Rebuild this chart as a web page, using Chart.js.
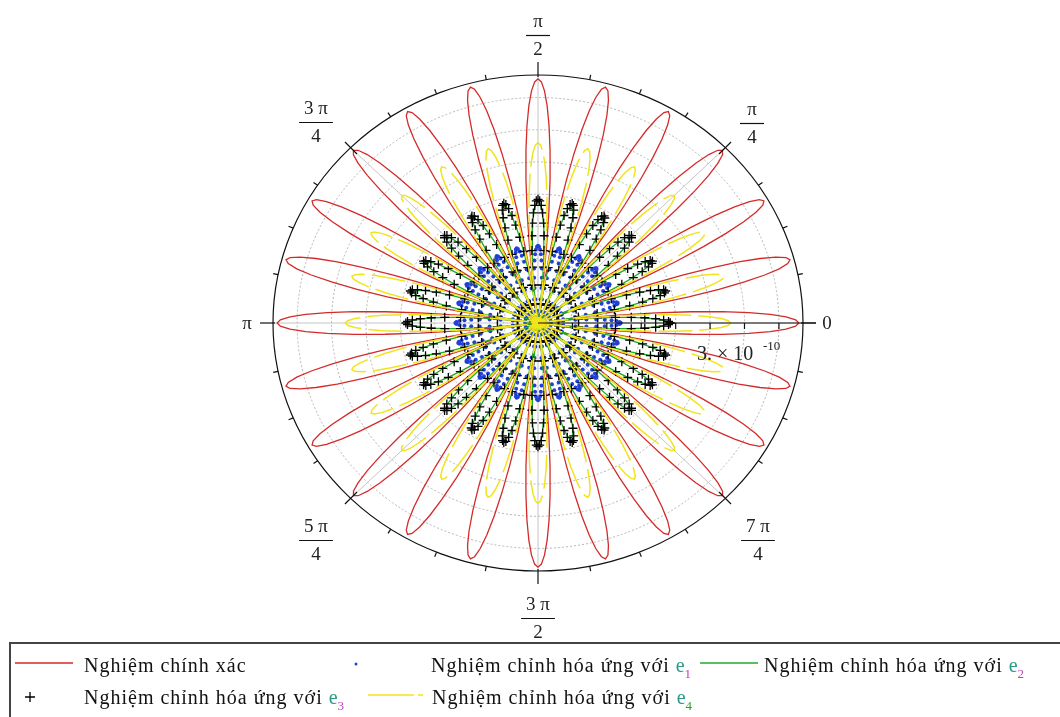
<!DOCTYPE html>
<html>
<head>
<meta charset="utf-8">
<script src="https://cdn.jsdelivr.net/npm/chart.js@4.4.1/dist/chart.umd.min.js"></script>
<style>
  html, body { margin: 0; padding: 0; background: #fff; }
  canvas { display: block; }
</style>
</head>
<body>
<canvas id="rose" width="1060" height="717"></canvas>
<script>
// radial values are in units of 1e-10
const R_MAX = 3.85;
const RING_VALUES = [0.5, 1, 1.5, 2, 2.5, 3, 3.5];
const PETALS = 24;
const SAMPLES = 480;

// petal length of each trace
const SERIES_NAMES = ['exact', 'e1', 'e2', 'e3', 'e4'];
const SERIES_AMPLITUDE = [3.79, 1.2, 1.88, 1.92, 2.8];
const SERIES_COLORS = ['#d42a2a', '#2040d8', '#20a828', '#000000', '#f2e41c'];

const ANGLE_LABELS = [
  { a: 0, num: '0' },
  { a: 45, num: 'π', den: '4' },
  { a: 90, num: 'π', den: '2' },
  { a: 135, num: '3 π', den: '4' },
  { a: 180, num: 'π' },
  { a: 225, num: '5 π', den: '4' },
  { a: 270, num: '3 π', den: '2' },
  { a: 315, num: '7 π', den: '4' }
];
// pixel of the fraction bar (or text centre) for each label
const ANGLE_LABEL_POS = {
  0: [827, 323], 45: [752, 123], 90: [538, 35], 135: [316, 122],
  180: [247, 323], 225: [316, 540], 270: [538, 618], 315: [758, 540]
};

const LEGEND_ROWS = [
  [{ mark: 'line', color: SERIES_COLORS[0], x: 15, text: 'Nghiệm chính xác', tx: 84 },
   { mark: 'dot', color: SERIES_COLORS[1], x: 356, text: 'Nghiệm chỉnh hóa ứng với ', sub: '1', tx: 431 },
   { mark: 'line', color: SERIES_COLORS[2], x: 700, text: 'Nghiệm chỉnh hóa ứng với ', sub: '2', tx: 764 }],
  [{ mark: 'cross', color: SERIES_COLORS[3], x: 30, text: 'Nghiệm chỉnh hóa ứng với ', sub: '3', tx: 84 },
   { mark: 'dash', color: SERIES_COLORS[4], x: 368, text: 'Nghiệm chỉnh hóa ứng với ', sub: '4', tx: 432, subColor: '#30a030' }]
];

function rose(amp) {
  const pts = [];
  for (let i = 0; i <= SAMPLES; i++) {
    const t = 2 * Math.PI * i / SAMPLES;
    const r = amp * Math.cos(PETALS / 2 * t);
    pts.push({ x: r * Math.cos(t), y: r * Math.sin(t) });
  }
  return pts;
}

const SERIF = '"Liberation Serif", "Times New Roman", serif';

const polarGrid = {
  id: 'polarGrid',
  beforeDatasetsDraw(chart) {
    const ctx = chart.ctx, sx = chart.scales.x, sy = chart.scales.y;
    const cx = sx.getPixelForValue(0), cy = sy.getPixelForValue(0);
    ctx.save();
    ctx.strokeStyle = '#b4b4b4';
    ctx.lineWidth = 1;
    ctx.setLineDash([2, 2]);
    RING_VALUES.forEach(v => {
      const rx = sx.getPixelForValue(v) - cx, ry = cy - sy.getPixelForValue(v);
      ctx.beginPath();
      ctx.ellipse(cx, cy, rx, ry, 0, 0, 2 * Math.PI);
      ctx.stroke();
    });
    ctx.setLineDash([]);
    ctx.strokeStyle = '#c4c4c4';
    for (let k = 0; k < 8; k++) {
      const a = k * Math.PI / 4;
      ctx.beginPath();
      ctx.moveTo(cx, cy);
      ctx.lineTo(sx.getPixelForValue(R_MAX * Math.cos(a)), sy.getPixelForValue(R_MAX * Math.sin(a)));
      ctx.stroke();
    }
    ctx.restore();
  },
  afterDatasetsDraw(chart) {
    const ctx = chart.ctx, sx = chart.scales.x, sy = chart.scales.y;
    const cx = sx.getPixelForValue(0), cy = sy.getPixelForValue(0);
    const rx = sx.getPixelForValue(R_MAX) - cx, ry = cy - sy.getPixelForValue(R_MAX);
    ctx.save();
    ctx.strokeStyle = '#111';
    ctx.lineWidth = 1.2;
    ctx.beginPath();
    ctx.ellipse(cx, cy, rx, ry, 0, 0, 2 * Math.PI);
    ctx.stroke();

    // angular ticks every 11.25 degrees
    for (let k = 0; k < 32; k++) {
      const a = k * Math.PI / 16;
      const ex = cx + rx * Math.cos(a), ey = cy - ry * Math.sin(a);
      let inner = 0, outer = 5;
      if (k % 8 === 0) { inner = 2; outer = 13; }
      else if (k % 4 === 0) { inner = 9; outer = 8; }
      ctx.beginPath();
      ctx.moveTo(ex - inner * Math.cos(a), ey + inner * Math.sin(a));
      ctx.lineTo(ex + outer * Math.cos(a), ey - outer * Math.sin(a));
      ctx.stroke();
    }

    // radial axis along 0
    ctx.beginPath();
    ctx.moveTo(cx, cy);
    ctx.lineTo(cx + rx + 13, cy);
    ctx.stroke();
    RING_VALUES.forEach(v => {
      const px = sx.getPixelForValue(v);
      ctx.beginPath();
      ctx.moveTo(px, cy);
      ctx.lineTo(px, cy + 6);
      ctx.stroke();
    });

    // radial limit label
    ctx.fillStyle = '#222';
    ctx.textBaseline = 'alphabetic';
    ctx.textAlign = 'left';
    ctx.font = '20px ' + SERIF;
    ctx.fillText('3. × 10', 697, 360);
    ctx.font = '13px ' + SERIF;
    ctx.fillText('-10', 763, 350);

    // angle labels
    ctx.font = '19px ' + SERIF;
    ctx.textAlign = 'center';
    ANGLE_LABELS.forEach(l => {
      const [x, y] = ANGLE_LABEL_POS[l.a];
      if (!l.den) {
        ctx.textBaseline = 'middle';
        ctx.fillText(l.num, x, y + 1);
        return;
      }
      ctx.textBaseline = 'alphabetic';
      ctx.fillText(l.num, x, y - 8);
      ctx.fillText(l.den, x, y + 20);
      const w = Math.max(ctx.measureText(l.num).width, 14) + 10;
      ctx.lineWidth = 1.2;
      ctx.beginPath();
      ctx.moveTo(x - w / 2, y + 0.5);
      ctx.lineTo(x + w / 2, y + 0.5);
      ctx.stroke();
    });
    ctx.restore();
  },
  afterDraw(chart) {
    const ctx = chart.ctx;
    ctx.save();
    ctx.strokeStyle = '#444';
    ctx.lineWidth = 2;
    ctx.strokeRect(10, 643, 1100, 120);
    const rowY = [664, 696];
    LEGEND_ROWS.forEach((row, ri) => {
      const y = rowY[ri];
      row.forEach(item => {
        ctx.strokeStyle = item.color;
        ctx.fillStyle = item.color;
        ctx.lineWidth = 1.3;
        if (item.mark === 'line') {
          ctx.beginPath(); ctx.moveTo(item.x, y - 1); ctx.lineTo(item.x + 58, y - 1); ctx.stroke();
        } else if (item.mark === 'dash') {
          ctx.setLineDash([46, 4]);
          ctx.beginPath(); ctx.moveTo(item.x, y - 1); ctx.lineTo(item.x + 55, y - 1); ctx.stroke();
          ctx.setLineDash([]);
        } else if (item.mark === 'dot') {
          ctx.beginPath(); ctx.arc(item.x, y, 1.5, 0, 2 * Math.PI); ctx.fill();
        } else if (item.mark === 'cross') {
          ctx.beginPath();
          ctx.moveTo(item.x - 5, y + 1); ctx.lineTo(item.x + 5, y + 1);
          ctx.moveTo(item.x, y - 4); ctx.lineTo(item.x, y + 6);
          ctx.stroke();
        }
        ctx.fillStyle = '#111';
        ctx.font = '20px ' + SERIF;
        ctx.textAlign = 'left';
        ctx.textBaseline = 'alphabetic';
        ctx.letterSpacing = '1px';
        ctx.fillText(item.text, item.tx, y + 8);
        if (item.sub) {
          const w = ctx.measureText(item.text).width;
          ctx.fillStyle = '#2a9a86';
          ctx.fillText('e', item.tx + w, y + 8);
          const we = ctx.measureText('e').width;
          ctx.font = '13px ' + SERIF;
          ctx.fillStyle = item.subColor || '#c03cc0';
          ctx.fillText(item.sub, item.tx + w + we - 1, y + 14);
        }
        ctx.letterSpacing = '0px';
      });
    });
    ctx.restore();
  }
};

new Chart(document.getElementById('rose'), {
  type: 'scatter',
  data: {
    datasets: [
      { label: SERIES_NAMES[0], data: rose(SERIES_AMPLITUDE[0]), showLine: true, pointRadius: 0,
        borderColor: SERIES_COLORS[0], borderWidth: 1.3, order: 4 },
      { label: SERIES_NAMES[1], data: rose(SERIES_AMPLITUDE[1]), showLine: false, pointRadius: 2,
        pointStyle: 'circle', backgroundColor: SERIES_COLORS[1], borderWidth: 0, order: 3 },
      { label: SERIES_NAMES[2], data: rose(SERIES_AMPLITUDE[2]), showLine: true, pointRadius: 0,
        borderColor: SERIES_COLORS[2], borderWidth: 1.3, order: 2 },
      { label: SERIES_NAMES[3], data: rose(SERIES_AMPLITUDE[3]), showLine: false, pointRadius: 4.5,
        pointStyle: 'cross', borderColor: SERIES_COLORS[3], borderWidth: 1.3, order: 1 },
      { label: SERIES_NAMES[4], data: rose(SERIES_AMPLITUDE[4]), showLine: true, pointRadius: 0,
        borderColor: SERIES_COLORS[4], borderWidth: 1.5, borderDash: [34, 7], order: 0 }
    ]
  },
  options: {
    responsive: false,
    animation: false,
    layout: { padding: { left: 273, right: 257, top: 75, bottom: 146 } },
    scales: {
      x: { type: 'linear', min: -R_MAX, max: R_MAX, display: false },
      y: { type: 'linear', min: -R_MAX, max: R_MAX, display: false }
    },
    elements: { line: { tension: 0 } },
    plugins: {
      legend: { display: false },
      tooltip: { enabled: false }
    }
  },
  plugins: [polarGrid]
});
</script>
</body>
</html>
